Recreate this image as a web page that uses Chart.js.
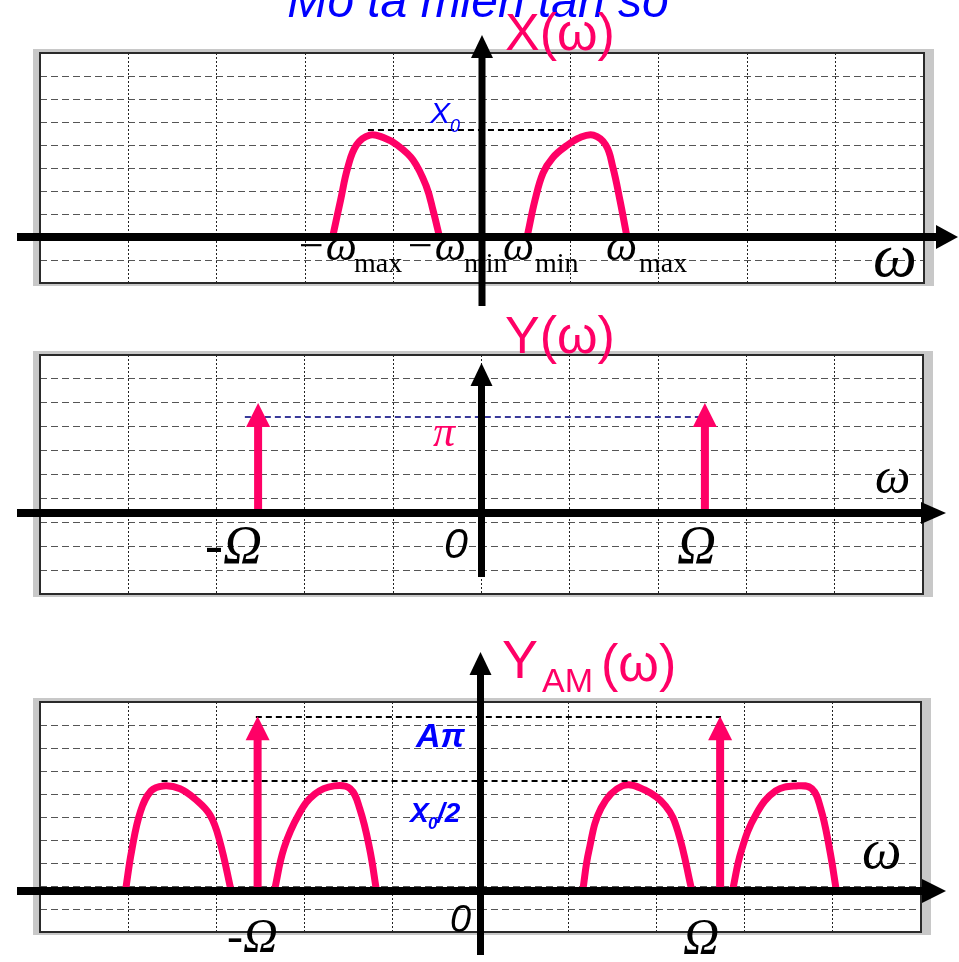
<!DOCTYPE html>
<html>
<head>
<meta charset="utf-8">
<script src="https://cdn.jsdelivr.net/npm/chart.js@4/dist/chart.umd.min.js"></script>
<style>
  html, body { margin: 0; padding: 0; background: #fff; width: 959px; height: 962px; overflow: hidden; }
  canvas { position: absolute; left: 0; }
</style>
</head>
<body>
<canvas id="specX" width="959" height="310" style="top:0px"></canvas>
<canvas id="specY" width="959" height="300" style="top:310px"></canvas>
<canvas id="specAM" width="959" height="352" style="top:610px"></canvas>
<script>
// ---------- data (ω in grid units, amplitude in grid units) ----------
const pageTitle = 'Mô tả miền tần số';

// X(ω): band-limited message spectrum
const xNegW = [-1.69, -1.60, -1.52, -1.42, -1.27, -1.12, -0.96, -0.78, -0.63, -0.55, -0.48];
const xNegA = [0, 1.6, 3.0, 4.0, 4.43, 4.33, 4.0, 3.35, 2.2, 1.1, 0];
const xPosW = [0.51, 0.60, 0.69, 0.80, 0.95, 1.11, 1.26, 1.40, 1.48, 1.56, 1.64];
const xPosA = [0, 1.61, 2.78, 3.45, 3.95, 4.33, 4.43, 4.0, 3.04, 1.61, 0];
const x0Level = 4.65;
const x0Span = [-1.29, 0.99];
const xTickSym = ['−ω', '−ω', 'ω', 'ω'];
const xTickSub = ['max', 'min', 'min', 'max'];

// Y(ω): carrier impulses at ±Ω
const carrierW = [-2.53, 2.53];
const carrierA = [4.6, 4.6];
const piLevel = 4.02;
const piSpan = [-2.68, 2.55];
const yTickLabels = ['-Ω', '0', 'Ω'];

// Y_AM(ω): shifted message spectra plus carrier impulses
const am1W = [-4.03, -3.96, -3.86, -3.74, -3.60, -3.41, -3.24, -3.07, -2.96, -2.83];
const am1A = [0, 1.74, 3.45, 4.35, 4.57, 4.45, 4.0, 3.3, 2.17, 0];
const am2W = [-2.34, -2.23, -2.06, -1.88, -1.66, -1.48, -1.37, -1.26, -1.18];
const am2A = [0, 1.87, 3.35, 4.22, 4.57, 4.45, 3.57, 1.87, 0];
const am3W = [1.16, 1.23, 1.37, 1.61, 1.86, 2.10, 2.24, 2.40];
const am3A = [0, 1.74, 3.61, 4.57, 4.40, 3.7, 2.6, 0];
const am4W = [2.86, 2.96, 3.13, 3.35, 3.59, 3.76, 3.86, 3.96, 4.04];
const am4A = [0, 1.74, 3.35, 4.35, 4.57, 4.45, 3.61, 1.87, 0];
const amCarrierW = [-2.53, 2.72];
const amCarrierA = [7.6, 7.6];
const aPiLevel = 7.57;
const aPiSpan = [-2.55, 2.73];
const halfX0Level = 4.78;
const halfX0Span = [-3.62, 3.59];

// ---------- styling ----------
const PINK = '#FF0066';
const BLUE = '#0000FF';
const SANS = '"Liberation Sans", Arial, sans-serif';
const SERIF = '"Liberation Serif", "Times New Roman", serif';

const pts = (ws, as) => ws.map((w, i) => ({ x: w, y: as[i] }));

function lobe(ws, as) {
  return {
    data: pts(ws, as), borderColor: PINK, borderWidth: 7, pointRadius: 0,
    tension: 0.4, borderJoinStyle: 'round', borderCapStyle: 'butt', fill: false
  };
}
function levelLine(level, span, color) {
  return {
    data: [{ x: span[0], y: level }, { x: span[1], y: level }],
    borderColor: color, borderWidth: 2, borderDash: [6, 4], pointRadius: 0, fill: false
  };
}

// Frame, axes, impulses and annotations of one spectrum panel
const panelPlugin = {
  id: 'panel',
  beforeDraw(chart) {
    const { ctx, chartArea: a } = chart;
    ctx.save();
    ctx.fillStyle = '#c8c8c8';
    ctx.fillRect(a.left - 7, a.top - 4, a.right - a.left + 17, a.bottom - a.top + 7);
    ctx.fillStyle = '#ffffff';
    ctx.fillRect(a.left, a.top, a.right - a.left, a.bottom - a.top);
    ctx.restore();
  },
  beforeDatasetsDraw(chart) {
    const { ctx, chartArea: a } = chart;
    ctx.save();
    ctx.strokeStyle = '#2a2a2a';
    ctx.lineWidth = 2;
    ctx.strokeRect(a.left, a.top, a.right - a.left, a.bottom - a.top);
    ctx.restore();
  },
  afterDatasetsDraw(chart, args, o) {
    const { ctx } = chart;
    const xs = chart.scales.x, ys = chart.scales.y;
    const T = o.top;
    const y0 = ys.getPixelForValue(0);
    const x0 = xs.getPixelForValue(0);
    ctx.save();
    // carrier impulses
    (o.impulseW || []).forEach((w, i) => {
      const px = xs.getPixelForValue(w);
      const tip = ys.getPixelForValue(o.impulseA[i]);
      ctx.fillStyle = PINK;
      ctx.fillRect(px - 4, tip + 22, 8, y0 - tip - 22);
      ctx.beginPath();
      ctx.moveTo(px - 12, tip + 24);
      ctx.lineTo(px, tip);
      ctx.lineTo(px + 12, tip + 24);
      ctx.closePath();
      ctx.fill();
    });
    // ω axis with arrow
    ctx.fillStyle = '#000';
    ctx.fillRect(17, y0 - 4, o.hBase - 17, 8);
    ctx.beginPath();
    ctx.moveTo(o.hBase, y0 - o.hHead);
    ctx.lineTo(o.hTip, y0);
    ctx.lineTo(o.hBase, y0 + o.hHead);
    ctx.closePath();
    ctx.fill();
    // amplitude axis with arrow
    ctx.fillRect(x0 - 3.5, o.vBase - T, 7, o.vBottom - o.vBase);
    ctx.beginPath();
    ctx.moveTo(x0 - 11, o.vBase - T);
    ctx.lineTo(x0, o.vTip - T);
    ctx.lineTo(x0 + 11, o.vBase - T);
    ctx.closePath();
    ctx.fill();
    // annotations
    (o.texts || []).forEach(t => {
      ctx.font = t.font;
      ctx.fillStyle = t.color || '#000';
      ctx.textAlign = t.align || 'left';
      ctx.textBaseline = 'alphabetic';
      ctx.fillText(t.s, t.x, t.y - T);
    });
    ctx.restore();
  }
};

function stepTicks(min, n) {
  const out = [];
  for (let k = 0; k <= n; k++) out.push({ value: min + k });
  return out;
}

function makePanel(id, top, area, yMin, yMax, datasets, extra) {
  const canvas = document.getElementById(id);
  return new Chart(canvas, {
    type: 'line',
    data: { datasets },
    options: {
      responsive: false,
      animation: false,
      devicePixelRatio: 1,
      events: [],
      layout: {
        autoPadding: false,
        padding: { left: area.left, right: canvas.width - area.right, top: area.top - top, bottom: top + canvas.height - area.bottom }
      },
      plugins: {
        legend: { display: false },
        tooltip: { enabled: false },
        panel: Object.assign({ top }, extra)
      },
      scales: {
        x: {
          type: 'linear', min: -5, max: 5,
          ticks: { display: false, stepSize: 1 },
          grid: { color: '#222', lineWidth: 1, drawTicks: false },
          border: { display: false, dash: [2, 2] }
        },
        y: {
          type: 'linear', min: yMin, max: yMax,
          afterBuildTicks: s => { s.ticks = stepTicks(yMin, Math.round(yMax - yMin)); },
          ticks: { display: false },
          grid: { color: '#555', lineWidth: 1, drawTicks: false },
          border: { display: false, dash: [7, 4] }
        }
      }
    },
    plugins: [panelPlugin]
  });
}

// ---------- panel 1: X(ω) ----------
const tickFontSym = 'italic 44px ' + SERIF;
const tickFontSub = '28px ' + SERIF;
makePanel('specX', 0, { left: 40, right: 924, top: 53, bottom: 283 }, -2, 8, [
  levelLine(x0Level, x0Span, '#000'),
  lobe(xNegW, xNegA),
  lobe(xPosW, xPosA)
], {
  hBase: 936, hTip: 958, hHead: 12,
  vTip: 35, vBase: 58, vBottom: 306,
  texts: [
    { s: pageTitle, x: 478, y: 17, font: 'italic 48px ' + SANS, color: BLUE, align: 'center' },
    { s: 'X(ω)', x: 505, y: 50, font: '52px ' + SANS, color: PINK },
    { s: 'X', x: 430, y: 123, font: 'italic 30px ' + SANS, color: BLUE },
    { s: '0', x: 450, y: 132, font: 'italic 18px ' + SANS, color: BLUE },
    { s: xTickSym[0], x: 296, y: 260, font: tickFontSym },
    { s: xTickSub[0], x: 354, y: 272, font: tickFontSub },
    { s: xTickSym[1], x: 405, y: 260, font: tickFontSym },
    { s: xTickSub[1], x: 464, y: 272, font: tickFontSub },
    { s: xTickSym[2], x: 503, y: 260, font: tickFontSym },
    { s: xTickSub[2], x: 535, y: 272, font: tickFontSub },
    { s: xTickSym[3], x: 606, y: 260, font: tickFontSym },
    { s: xTickSub[3], x: 639, y: 272, font: tickFontSub },
    { s: 'ω', x: 873, y: 276, font: 'italic 62px ' + SERIF }
  ]
});

// ---------- panel 2: Y(ω) ----------
const rowY = 23.9;
makePanel('specY', 310, { left: 40, right: 923, top: 355, bottom: 594 },
  -(594 - 513) / rowY, (513 - 355) / rowY, [
  levelLine(piLevel, piSpan, '#3a3a9a')
], {
  impulseW: carrierW, impulseA: carrierA,
  hBase: 921, hTip: 946, hHead: 11,
  vTip: 363, vBase: 386, vBottom: 577,
  texts: [
    { s: 'Y(ω)', x: 505, y: 353, font: '52px ' + SANS, color: PINK },
    { s: 'π', x: 433, y: 446, font: 'italic 44px ' + SERIF, color: PINK },
    { s: yTickLabels[0], x: 205, y: 563, font: 'italic 54px ' + SERIF },
    { s: yTickLabels[1], x: 444, y: 558, font: 'italic 43px ' + SANS },
    { s: yTickLabels[2], x: 677, y: 563, font: 'italic 54px ' + SERIF },
    { s: 'ω', x: 875, y: 493, font: 'italic 50px ' + SERIF }
  ]
});

// ---------- panel 3: Y_AM(ω) ----------
makePanel('specAM', 610, { left: 40, right: 921, top: 702, bottom: 932 },
  -(932 - 891) / 23, (891 - 702) / 23, [
  levelLine(aPiLevel, aPiSpan, '#000'),
  levelLine(halfX0Level, halfX0Span, '#000'),
  lobe(am1W, am1A),
  lobe(am2W, am2A),
  lobe(am3W, am3A),
  lobe(am4W, am4A)
], {
  impulseW: amCarrierW, impulseA: amCarrierA,
  hBase: 922, hTip: 946, hHead: 12,
  vTip: 652, vBase: 675, vBottom: 955,
  texts: [
    { s: 'Y', x: 502, y: 678, font: '54px ' + SANS, color: PINK },
    { s: 'AM', x: 542, y: 692, font: '34px ' + SANS, color: PINK },
    { s: '(ω)', x: 601, y: 681, font: '52px ' + SANS, color: PINK },
    { s: 'Aπ', x: 416, y: 747, font: 'bold italic 34px ' + SANS, color: BLUE },
    { s: 'X', x: 410, y: 822, font: 'bold italic 28px ' + SANS, color: BLUE },
    { s: '0', x: 428, y: 829, font: 'bold italic 17px ' + SANS, color: BLUE },
    { s: '/2', x: 437, y: 822, font: 'bold italic 28px ' + SANS, color: BLUE },
    { s: '0', x: 450, y: 932, font: 'italic 38px ' + SANS },
    { s: '-Ω', x: 227, y: 952, font: 'italic 48px ' + SERIF },
    { s: 'Ω', x: 683, y: 953, font: 'italic 50px ' + SERIF },
    { s: 'ω', x: 862, y: 868, font: 'italic 56px ' + SERIF }
  ]
});
</script>
</body>
</html>
